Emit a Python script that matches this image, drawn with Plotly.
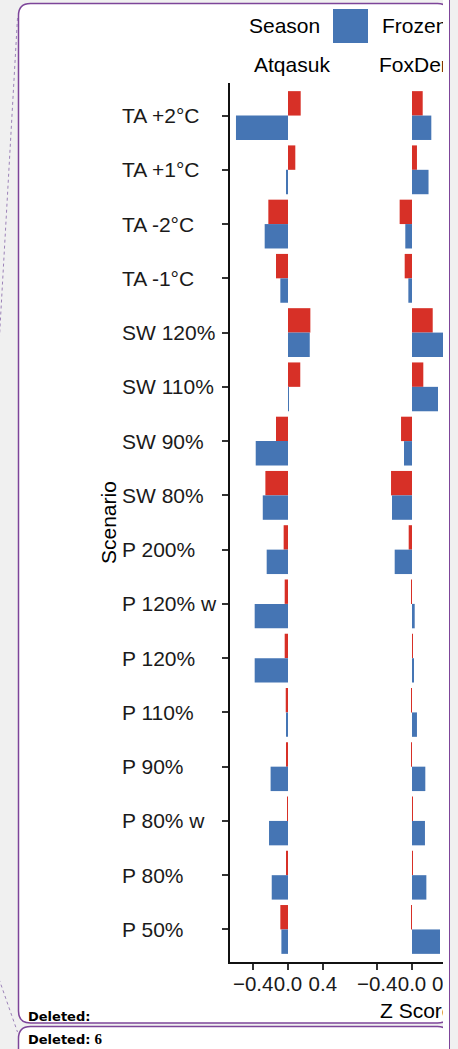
import plotly.graph_objects as go

# Scenario order, top to bottom
scenarios = ["TA +2°C", "TA +1°C", "TA -2°C", "TA -1°C",
             "SW 120%", "SW 110%", "SW 90%", "SW 80%",
             "P 200%", "P 120% w", "P 120%", "P 110%",
             "P 90%", "P 80% w", "P 80%", "P 50%"]

seasons = ["Frozen", "Thawed"]
sites = ["Atqasuk", "FoxDen"]

# Z scores per site and season
atq_frozen = [-0.598, -0.023, -0.268, -0.088, 0.250, 0.005, -0.371, -0.290,
              -0.245, -0.383, -0.383, -0.015, -0.200, -0.218, -0.187, -0.076]
atq_thawed = [0.146, 0.084, -0.226, -0.138, 0.257, 0.141, -0.138, -0.260,
              -0.050, -0.038, -0.038, -0.026, -0.020, -0.008, -0.020, -0.088]
fox_frozen = [0.222, 0.190, -0.077, -0.042, 0.360, 0.299, -0.092, -0.230,
              -0.199, 0.031, 0.015, 0.057, 0.153, 0.149, 0.165, 0.322]
fox_thawed = [0.123, 0.057, -0.142, -0.084, 0.238, 0.130, -0.126, -0.241,
              -0.038, -0.002, 0.002, -0.002, -0.005, 0.002, 0.008, -0.004]

x_ticks = [-0.4, 0.0, 0.4]

colors = {"Frozen": "#4575b4", "Thawed": "#d73027"}

W, H = 443, 1049

# horizontal scale shared by both panels (pixels per Z unit) and zero positions
unit_px = 87
zero_px = {"Atqasuk": 288, "FoxDen": 412}
x_min = -(zero_px["Atqasuk"] - 230) / unit_px


def px(x):
    return x / W


def py(y):
    return 1 - y / H


def rounded_box(x0, y0, x1, y1, r):
    pts = [("M", x0 + r, y0), ("L", x1 - r, y0), ("Q", x1, y0, x1, y0 + r),
           ("L", x1, y1 - r), ("Q", x1, y1, x1 - r, y1), ("L", x0 + r, y1),
           ("Q", x0, y1, x0, y1 - r), ("L", x0, y0 + r), ("Q", x0, y0, x0 + r, y0)]
    out = []
    for p in pts:
        cmd, vals = p[0], p[1:]
        coords = []
        for i in range(0, len(vals), 2):
            coords.append(f"{px(vals[i]):.5f},{py(vals[i + 1]):.5f}")
        out.append(cmd + " ".join(coords))
    return " ".join(out) + " Z"


fig = go.Figure()

panels = [("x", "y", atq_thawed, atq_frozen), ("x2", "y2", fox_thawed, fox_frozen)]
for xa, ya, thawed, frozen in panels:
    for name, vals in (("Thawed", thawed), ("Frozen", frozen)):
        fig.add_trace(go.Bar(
            x=vals, y=scenarios, orientation="h", name=name,
            marker=dict(color=colors[name], line=dict(width=0)),
            xaxis=xa, yaxis=ya, showlegend=False, hoverinfo="x+y+name",
        ))

font = "Liberation Sans, Arial, Helvetica, sans-serif"
txt = "#1a1a1a"
tick_font = dict(family=font, size=20.5, color=txt)
common_x = dict(showline=True, linecolor="#111", linewidth=1.6, ticks="outside",
                ticklen=6, tickwidth=1.5, tickcolor="#333", showgrid=False,
                zeroline=False, tickvals=x_ticks, tickformat=".1f", tickangle=0,
                ticklabelstandoff=-3, tickfont=tick_font)

y_top, y_bot = 83, 962
fig.update_layout(
    width=W, height=H,
    margin=dict(l=0, r=0, t=0, b=0),
    paper_bgcolor="#f0f0f0", plot_bgcolor="rgba(0,0,0,0)",
    barmode="group", bargap=0.1, bargroupgap=0,
    xaxis=dict(domain=[px(230), px(354)],
               range=[x_min, x_min + (354 - 230) / unit_px], anchor="y", **common_x),
    xaxis2=dict(domain=[px(354), 1],
                range=[x_min, (W - zero_px["FoxDen"]) / unit_px], anchor="y2", **common_x),
    yaxis=dict(domain=[py(y_bot), py(y_top)], type="category",
               categoryorder="array", categoryarray=scenarios,
               range=[15.6, -0.6], anchor="x", showline=True, linecolor="#111",
               linewidth=1.6, ticks="outside", ticklen=6, tickwidth=1.5,
               tickcolor="#333", showticklabels=False, showgrid=False, zeroline=False),
    yaxis2=dict(domain=[py(y_bot), py(y_top)], matches="y", anchor="x2",
                showline=False, ticks="", showticklabels=False, showgrid=False,
                zeroline=False),
    showlegend=False,
)

shapes = [
    # page frame boxes
    dict(type="path", path=rounded_box(18.5, 3.5, 449.5, 1023, 12), xref="paper", yref="paper",
         fillcolor="#ffffff", line=dict(color="#7d4599", width=1.5), layer="below"),
    dict(type="path", path=rounded_box(18.5, 1026.5, 449.5, 1080, 12), xref="paper", yref="paper",
         fillcolor="#ffffff", line=dict(color="#7d4599", width=1.5), layer="below"),
    # dotted connector lines
    dict(type="line", x0=px(17.5), y0=py(18), x1=px(-1), y1=py(345), xref="paper", yref="paper",
         line=dict(color="#9c82b8", width=1, dash="dot"), layer="below"),
    dict(type="line", x0=px(-1), y0=py(979), x1=px(17.5), y1=py(1032), xref="paper", yref="paper",
         line=dict(color="#9c82b8", width=1, dash="dot"), layer="below"),
    # legend keys
    dict(type="rect", x0=px(333), x1=px(368), y0=py(43), y1=py(9), xref="paper", yref="paper",
         fillcolor=colors["Frozen"], line=dict(width=0)),
    dict(type="rect", x0=px(460), x1=px(495), y0=py(43), y1=py(9), xref="paper", yref="paper",
         fillcolor=colors["Thawed"], line=dict(width=0)),
]

ann = []
# category labels, left aligned
for s in scenarios:
    ann.append(dict(text=s, x=px(120), xref="paper", xanchor="left", y=s, yref="y",
                    yanchor="middle", showarrow=False,
                    font=dict(family=font, size=21, color=txt)))
# last tick label of the FoxDen panel, which runs past the panel's right edge
t_last = x_ticks[-1]
ann.append(dict(text=f"{t_last:.1f}", x=px(zero_px["FoxDen"] + t_last * unit_px), y=py(983),
                xref="paper", yref="paper", xanchor="center", yanchor="middle",
                showarrow=False, font=tick_font))
# axis titles
ann.append(dict(text="Scenario", x=px(108.5), y=py((y_top + y_bot) / 2), xref="paper",
                yref="paper", xanchor="center", yanchor="middle", textangle=-90,
                showarrow=False, font=dict(family=font, size=21, color="#000")))
ann.append(dict(text="Z Score", x=px(378), y=py(1010), xref="paper", yref="paper",
                xanchor="left", yanchor="middle", showarrow=False,
                font=dict(family=font, size=21, color="#000")))
# facet strip labels
for site, cx in zip(sites, (292, 416)):
    ann.append(dict(text=site, x=px(cx), y=py(64), xref="paper", yref="paper",
                    xanchor="center", yanchor="middle", showarrow=False,
                    font=dict(family=font, size=21, color="#000")))
# legend text
ann.append(dict(text="Season", x=px(247), y=py(26), xref="paper", yref="paper",
                xanchor="left", yanchor="middle", showarrow=False,
                font=dict(family=font, size=21, color="#000")))
for name, lx in (("Frozen", 380), ("Thawed", 507)):
    ann.append(dict(text=name, x=px(lx), y=py(26), xref="paper", yref="paper",
                    xanchor="left", yanchor="middle", showarrow=False,
                    font=dict(family=font, size=21, color="#000")))
# balloon labels
ann.append(dict(text="<b>Deleted:</b>", x=px(26), y=py(1016), xref="paper", yref="paper",
                xanchor="left", yanchor="middle", showarrow=False,
                font=dict(family="DejaVu Sans, sans-serif", size=13, color="#000")))
ann.append(dict(text="<b>Deleted:</b> <span style='font-family:Liberation Serif, serif;font-size:15px'><b>6</b></span>",
                x=px(26), y=py(1038.5), xref="paper", yref="paper",
                xanchor="left", yanchor="middle", showarrow=False,
                font=dict(family="DejaVu Sans, sans-serif", size=13, color="#000")))

fig.update_layout(shapes=shapes, annotations=ann)

fig.write_html(
    "out.html",
    post_script=("document.body.style.margin='0';"
                 "document.body.style.background='linear-gradient(to right,#ffffff 0px,"
                 "#ffffff 449px,#7d4599 449px,#7d4599 450.5px,#f0f0f0 450.5px)';"),
)
